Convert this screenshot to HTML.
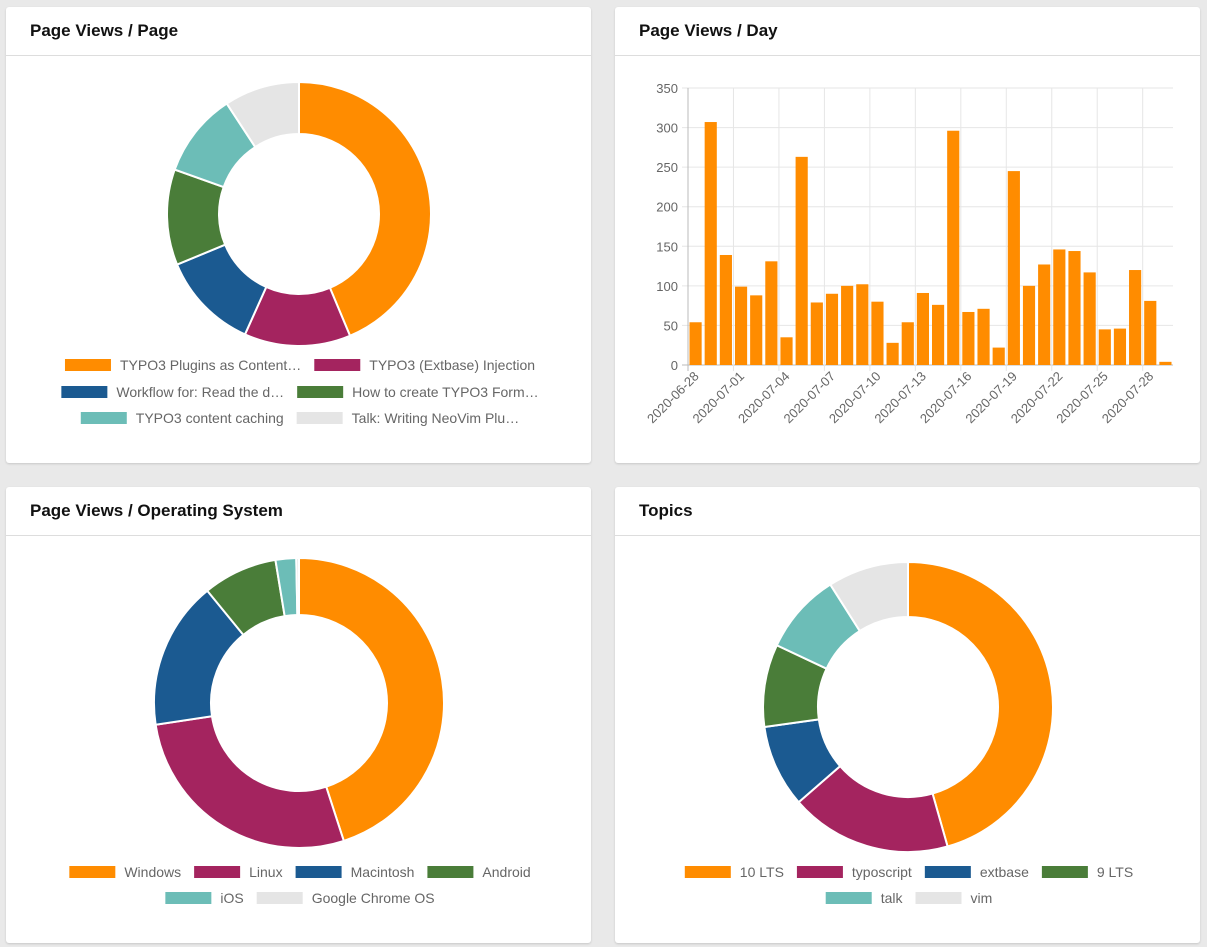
<!DOCTYPE html>
<html><head><meta charset="utf-8"><style>
body{margin:0;background:#e9e9e9;width:1207px;height:947px;position:relative;overflow:hidden;font-family:"Liberation Sans",sans-serif}
.card{position:absolute;background:#fff;width:585px;height:456px;border-radius:3px;box-shadow:0 1px 2px rgba(0,0,0,.15)}
.hd{height:48px;border-bottom:1px solid #ddd;font-weight:bold;font-size:17px;line-height:48px;padding-left:24px;color:#111}
svg{position:absolute;left:0;top:0}
</style></head><body>
<div class="card" style="left:6px;top:7px"><div class="hd">Page Views / Page</div><svg id="c1" width="585" height="456"></svg></div>
<div class="card" style="left:615px;top:7px"><div class="hd">Page Views / Day</div><svg id="c2" width="585" height="456"></svg></div>
<div class="card" style="left:6px;top:487px"><div class="hd">Page Views / Operating System</div><svg id="c3" width="585" height="456"></svg></div>
<div class="card" style="left:615px;top:487px"><div class="hd">Topics</div><svg id="c4" width="585" height="456"></svg></div>
<script>
const colors=["#ff8c00","#a4245f","#1b5a91","#4a7d39","#6cbdb7","#e5e5e5"];
const pageLabels=["TYPO3 Plugins as Content…","TYPO3 (Extbase) Injection","Workflow for: Read the d…","How to create TYPO3 Form…","TYPO3 content caching","Talk: Writing NeoVim Plu…"];
const pageValues=[43.6,13,12,11.7,10.3,9.2];
const osLabels=["Windows","Linux","Macintosh","Android","iOS","Google Chrome OS"];
const osValues=[45,27.6,16.5,8.3,2.3,0.3];
const topicLabels=["10 LTS","typoscript","extbase","9 LTS","talk","vim"];
const topicValues=[45.6,18,9.2,9.2,9,9];
const dayLabels=["2020-06-28","2020-06-29","2020-06-30","2020-07-01","2020-07-02","2020-07-03","2020-07-04","2020-07-05","2020-07-06","2020-07-07","2020-07-08","2020-07-09","2020-07-10","2020-07-11","2020-07-12","2020-07-13","2020-07-14","2020-07-15","2020-07-16","2020-07-17","2020-07-18","2020-07-19","2020-07-20","2020-07-21","2020-07-22","2020-07-23","2020-07-24","2020-07-25","2020-07-26","2020-07-27","2020-07-28","2020-07-29"];
const dayValues=[54,307,139,99,88,131,35,263,79,90,100,102,80,28,54,91,76,296,67,71,22,245,100,127,146,144,117,45,46,120,81,4];
const yTicks=[0,50,100,150,200,250,300,350];
const NS="http://www.w3.org/2000/svg";
function mk(p,t,a){const e=document.createElementNS(NS,t);for(const k in a)e.setAttribute(k,a[k]);p.appendChild(e);return e;}
function donut(svg,vals,labels,cx,cy,R,r,rows){
  const tot=vals.reduce((a,b)=>a+b,0);let a0=-Math.PI/2;
  vals.forEach((v,i)=>{const a1=a0+v/tot*2*Math.PI;const lg=(a1-a0)>Math.PI?1:0;
    const p=(rr,a)=>[cx+rr*Math.cos(a),cy+rr*Math.sin(a)];
    const [x1,y1]=p(R,a0),[x2,y2]=p(R,a1),[x3,y3]=p(r,a1),[x4,y4]=p(r,a0);
    const s=mk(svg,"path",{d:`M${x1},${y1}A${R},${R} 0 ${lg} 1 ${x2},${y2}L${x3},${y3}A${r},${r} 0 ${lg} 0 ${x4},${y4}Z`,fill:colors[i],stroke:"#fff","stroke-width":2});
    
    
    a0=a1;});
  rows.forEach(row=>{const y=row.y;let x=0;const g0=mk(svg,"g",{});
    row.items.forEach(i=>{
    const g=mk(g0,"g",{});
    
    
    mk(g,"rect",{x:x,y:y-6,width:46,height:12,fill:colors[i]});
    const t=mk(g,"text",{x:x+55,y:y+5,"font-size":14,fill:"#666","font-family":"Liberation Sans, sans-serif"});t.textContent=labels[i];
    x+=55+t.getComputedTextLength()+13;});
    const w=x-13;g0.setAttribute("transform",`translate(${row.c-w/2},0)`);});
}
donut(document.getElementById("c1"),pageValues,pageLabels,293,207,132,80,[{c:294,y:358,items:[0,1]},{c:294,y:385,items:[2,3]},{c:294,y:411,items:[4,5]}]);
donut(document.getElementById("c3"),osValues,osLabels,293,216,145,88,[{c:294,y:385,items:[0,1,2,3]},{c:294,y:411,items:[4,5]}]);
donut(document.getElementById("c4"),topicValues,topicLabels,293,220,145,90,[{c:294,y:385,items:[0,1,2,3]},{c:294,y:411,items:[4,5]}]);
(function(){const svg=document.getElementById("c2");
  const x0=73,x1=558,y0=358,y1=81,ymax=350;
  const ys=v=>y0-(v/ymax)*(y0-y1);const bw=(x1-x0)/dayValues.length;
  yTicks.forEach(t=>{mk(svg,"line",{x1:x0-6,x2:x1,y1:ys(t),y2:ys(t),stroke:t==0?"#bbb":"#e6e6e6"});
    const tx=mk(svg,"text",{x:x0-10,y:ys(t)+5,"text-anchor":"end","font-size":13,fill:"#666"});tx.textContent=t;
    });
  for(let i=0;i<=dayValues.length;i+=3){const gx=x0+i*bw;mk(svg,"line",{x1:gx,x2:gx,y1:y1,y2:y0+6,stroke:i==0?"#bbb":"#e6e6e6"});}
  dayValues.forEach((v,i)=>{const b=mk(svg,"rect",{x:x0+i*bw+1.5,y:ys(v),width:bw-3,height:y0-ys(v),fill:"#ff8c00"});
    
    });
  dayLabels.forEach((l,i)=>{if(i%3)return;const cx=x0+(i+0.5)*bw+4,cy=y0+12;
    const t=mk(svg,"text",{x:cx,y:cy,"text-anchor":"end","font-size":13,fill:"#666",transform:`rotate(-45 ${cx} ${cy})`});t.textContent=l;
    });
})();
</script>
</body></html>
